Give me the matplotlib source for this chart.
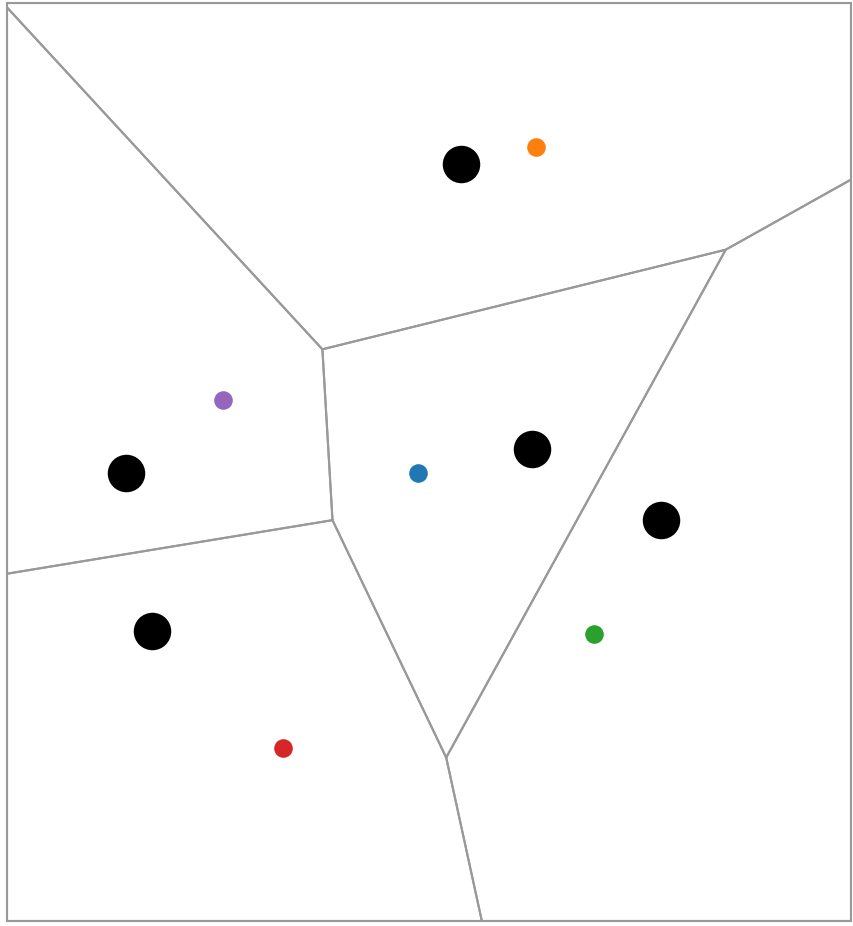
import matplotlib
matplotlib.use("Agg")
import matplotlib.pyplot as plt
import numpy as np

# region size (data units, y up)
W, H = 844, 918

# voronoi sites
site_x = [454.5, 119, 525, 654, 145]
site_y = [757.5, 448, 472, 401, 290]

# coloured points
pt_x = [411, 529, 587, 276, 216]
pt_y = [448, 774, 287, 173, 521]
pt_colors = ["#1f77b4", "#ff7f0e", "#2ca02c", "#d62728", "#9467bd"]


def clip(poly, p, q):
    # keep the side of the bisector that is closer to p
    n = q - p
    c = (q @ q - p @ p) / 2
    out = []
    for i in range(len(poly)):
        a, b = poly[i], poly[(i + 1) % len(poly)]
        fa, fb = a @ n - c, b @ n - c
        if fa <= 0:
            out.append(a)
        if fa * fb < 0:
            t = fa / (fa - fb)
            out.append(a + t * (b - a))
    return out


sites = np.column_stack([site_x, site_y]).astype(float)
box = [np.array(v, float) for v in [(0, 0), (W, 0), (W, H), (0, H)]]

fig = plt.figure(figsize=(8.54, 9.26), dpi=100)
ax = fig.add_axes([7 / 854, 5 / 926, 844 / 854, 918 / 926])

for i, s in enumerate(sites):
    cell = box
    for j, o in enumerate(sites):
        if i != j:
            cell = clip(cell, s, o)
    cell = np.array(cell + [cell[0]])
    ax.plot(cell[:, 0], cell[:, 1], color="#999999", lw=1.5, zorder=1)

ax.plot(site_x, site_y, "o", color="black", ms=27, mec="none", zorder=2)
for x, y, c in zip(pt_x, pt_y, pt_colors):
    ax.plot(x, y, "o", color=c, ms=13.4, mec="none", zorder=3)

ax.set_xlim(0, W)
ax.set_ylim(0, H)
ax.set_xticks([])
ax.set_yticks([])
for sp in ax.spines.values():
    sp.set_color("#999999")
    sp.set_linewidth(1.5)

fig.savefig("out.png", dpi=100)
